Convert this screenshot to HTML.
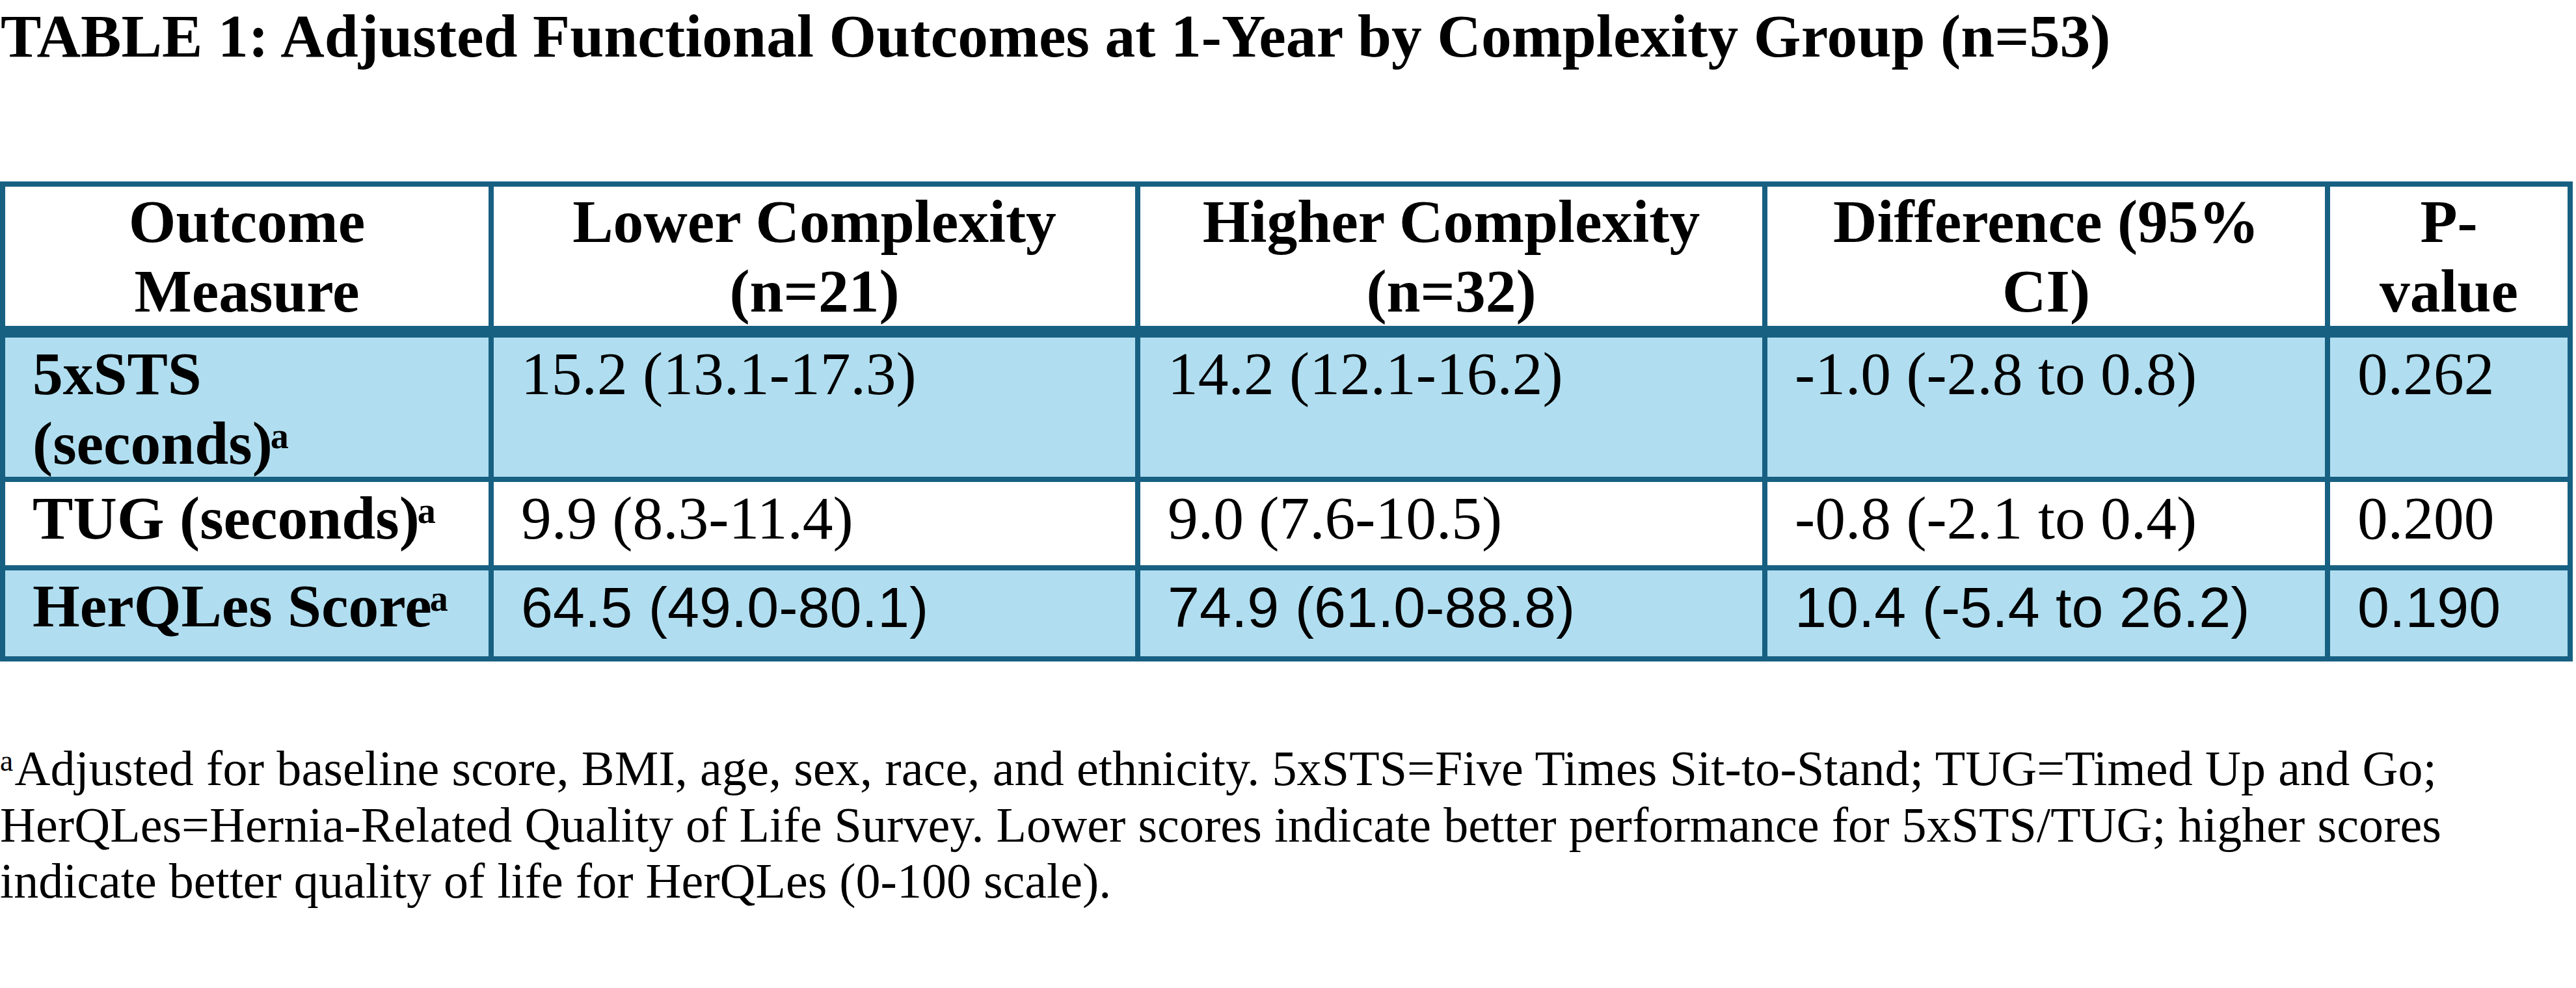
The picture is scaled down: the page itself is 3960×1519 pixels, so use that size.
<!DOCTYPE html>
<html><head><meta charset="utf-8"><style>
html,body{margin:0;padding:0;background:#fff;}
body{width:3960px;height:1519px;position:relative;overflow:hidden;}
.r{position:absolute;}
.t{position:absolute;line-height:0;white-space:pre;color:#000;}
.sb{font-family:"Liberation Serif",serif;font-weight:bold;}
.sr{font-family:"Liberation Serif",serif;font-weight:normal;}
.ss{font-family:"Liberation Sans",sans-serif;font-weight:normal;}
.sup{font-size:0.6em;position:relative;top:-0.44em;left:-3px;}
.sup2{font-size:0.6em;position:relative;top:-0.48em;margin-right:2px;}
</style></head><body>
<div class="r" style="left:0px;top:519px;width:3955px;height:214px;background:#b0def0"></div>
<div class="r" style="left:0px;top:877px;width:3955px;height:132px;background:#b0def0"></div>
<div class="r" style="left:0px;top:279px;width:8px;height:738px;background:#176082"></div>
<div class="r" style="left:751px;top:279px;width:8px;height:738px;background:#176082"></div>
<div class="r" style="left:1745px;top:279px;width:8px;height:738px;background:#176082"></div>
<div class="r" style="left:2709px;top:279px;width:8px;height:738px;background:#176082"></div>
<div class="r" style="left:3574px;top:279px;width:8px;height:738px;background:#176082"></div>
<div class="r" style="left:3947px;top:279px;width:8px;height:738px;background:#176082"></div>
<div class="r" style="left:0px;top:279px;width:3955px;height:8px;background:#176082"></div>
<div class="r" style="left:0px;top:501px;width:3955px;height:18px;background:#176082"></div>
<div class="r" style="left:0px;top:733px;width:3955px;height:8px;background:#176082"></div>
<div class="r" style="left:0px;top:869px;width:3955px;height:8px;background:#176082"></div>
<div class="r" style="left:0px;top:1009px;width:3955px;height:8px;background:#176082"></div>
<div class="t sb" style="left:1px;top:56.14px;font-size:93.5px;letter-spacing:0.08px;">TABLE 1: Adjusted Functional Outcomes at 1-Year by Complexity Group (n=53)</div>
<div class="t sb" style="left:8px;top:341.44px;font-size:93.5px;width:743px;text-align:center;">Outcome</div>
<div class="t sb" style="left:8px;top:448.44px;font-size:93.5px;width:743px;text-align:center;">Measure</div>
<div class="t sb" style="left:759px;top:341.44px;font-size:93.5px;width:986px;text-align:center;">Lower Complexity</div>
<div class="t sb" style="left:759px;top:448.44px;font-size:93.5px;width:986px;text-align:center;">(n=21)</div>
<div class="t sb" style="left:1753px;top:341.44px;font-size:93.5px;width:956px;text-align:center;">Higher Complexity</div>
<div class="t sb" style="left:1753px;top:448.44px;font-size:93.5px;width:956px;text-align:center;">(n=32)</div>
<div class="t sb" style="left:2717px;top:341.44px;font-size:93.5px;width:857px;text-align:center;">Difference (95%</div>
<div class="t sb" style="left:2717px;top:448.44px;font-size:93.5px;width:857px;text-align:center;">CI)</div>
<div class="t sb" style="left:3582px;top:341.44px;font-size:93.5px;width:365px;text-align:center;">P-</div>
<div class="t sb" style="left:3582px;top:448.44px;font-size:93.5px;width:365px;text-align:center;">value</div>
<div class="t sb" style="left:50px;top:575.44px;font-size:93.5px;">5xSTS</div>
<div class="t sb" style="left:50px;top:682.44px;font-size:93.5px;">(seconds)<span class="sup">a</span></div>
<div class="t sr" style="left:801px;top:575.44px;font-size:93.5px;">15.2 (13.1-17.3)</div>
<div class="t sr" style="left:1795px;top:575.44px;font-size:93.5px;">14.2 (12.1-16.2)</div>
<div class="t sr" style="left:2759px;top:575.44px;font-size:93.5px;">-1.0 (-2.8 to 0.8)</div>
<div class="t sr" style="left:3624px;top:575.44px;font-size:93.5px;">0.262</div>
<div class="t sb" style="left:50px;top:797.44px;font-size:93.5px;">TUG (seconds)<span class="sup">a</span></div>
<div class="t sr" style="left:801px;top:797.44px;font-size:93.5px;">9.9 (8.3-11.4)</div>
<div class="t sr" style="left:1795px;top:797.44px;font-size:93.5px;">9.0 (7.6-10.5)</div>
<div class="t sr" style="left:2759px;top:797.44px;font-size:93.5px;">-0.8 (-2.1 to 0.4)</div>
<div class="t sr" style="left:3624px;top:797.44px;font-size:93.5px;">0.200</div>
<div class="t sb" style="left:50px;top:932.44px;font-size:93.5px;">HerQLes Score<span class="sup">a</span></div>
<div class="t ss" style="left:801px;top:933.51px;font-size:88.0px;">64.5 (49.0-80.1)</div>
<div class="t ss" style="left:1795px;top:933.51px;font-size:88.0px;">74.9 (61.0-88.8)</div>
<div class="t ss" style="left:2759px;top:933.51px;font-size:88.0px;">10.4 (-5.4 to 26.2)</div>
<div class="t ss" style="left:3624px;top:933.51px;font-size:88.0px;">0.190</div>
<div class="t sr" style="left:0px;top:1180.85px;font-size:76.0px;letter-spacing:0.14px;"><span class="sup2">a</span>Adjusted for baseline score, BMI, age, sex, race, and ethnicity. 5xSTS=Five Times Sit-to-Stand; TUG=Timed Up and Go;</div>
<div class="t sr" style="left:0px;top:1267.85px;font-size:76.0px;letter-spacing:0.08px;">HerQLes=Hernia-Related Quality of Life Survey. Lower scores indicate better performance for 5xSTS/TUG; higher scores</div>
<div class="t sr" style="left:0px;top:1354.35px;font-size:76.0px;letter-spacing:0.02px;">indicate better quality of life for HerQLes (0-100 scale).</div>
</body></html>
